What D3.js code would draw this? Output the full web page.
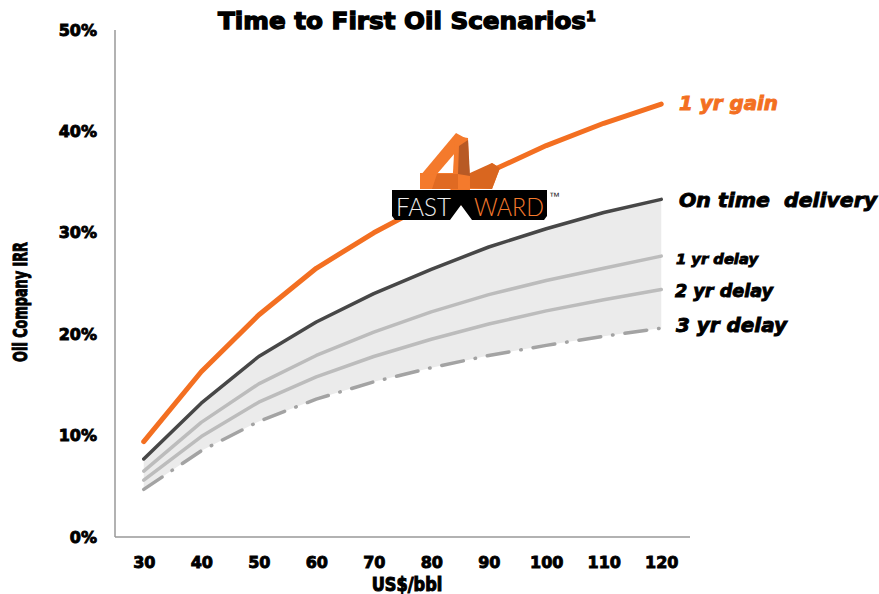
<!DOCTYPE html>
<html>
<head>
<meta charset="utf-8">
<script src="https://cdn.jsdelivr.net/npm/d3@7"></script>
<style>
  html, body { margin: 0; padding: 0; background: #fff; }
  svg { display: block; }
  .heavy { font-family: "DejaVu Sans", "Liberation Sans", sans-serif; font-weight: bold; }
</style>
</head>
<body>
<svg id="chart" width="879" height="594"></svg>
<script>
// ---- data ----
const prices = ["30", "40", "50", "60", "70", "80", "90", "100", "110", "120"];
const gain1yr   = [0.094, 0.163, 0.219, 0.265, 0.300, 0.330, 0.360, 0.386, 0.408, 0.427];
const onTime    = [0.077, 0.132, 0.178, 0.212, 0.240, 0.264, 0.286, 0.304, 0.320, 0.333];
const delay1yr  = [0.065, 0.113, 0.151, 0.179, 0.202, 0.222, 0.239, 0.253, 0.265, 0.277];
const delay2yr  = [0.056, 0.099, 0.133, 0.158, 0.178, 0.195, 0.210, 0.223, 0.234, 0.244];
const delay3yr  = [0.047, 0.085, 0.114, 0.136, 0.153, 0.167, 0.179, 0.189, 0.198, 0.206];
const yTicks = [0, 0.1, 0.2, 0.3, 0.4, 0.5];
const seriesLabels = ["1 yr gain", "On time  delivery", "1 yr delay", "2 yr delay", "3 yr delay"];

const svg = d3.select("#chart");
const x = d3.scalePoint().domain(prices).range([115, 690]).padding(0.5);
const y = d3.scaleLinear().domain([0, 0.5]).range([537, 30]);

// shaded band between on-time and 3-yr delay
const band = prices.map((p, i) => ({p, hi: onTime[i], lo: delay3yr[i]}));
svg.append("path")
  .datum(band)
  .attr("fill", "#ebebeb")
  .attr("d", d3.area().x(d => x(d.p)).y0(d => y(d.lo)).y1(d => y(d.hi)));

// axes
const yAxis = svg.append("g").attr("transform", "translate(115,0)")
  .call(d3.axisLeft(y).tickValues(yTicks).tickFormat(d3.format(".0%")).tickSize(0).tickPadding(18));
yAxis.select(".domain").attr("stroke", "#999").attr("stroke-width", 1.5).attr("d", "M0,30V537");
yAxis.selectAll("text").attr("class", "heavy").attr("font-size", 16).attr("fill", "#000")
  .attr("stroke", "#000").attr("stroke-width", 0.9);

const xAxis = svg.append("g").attr("transform", "translate(0,537)")
  .call(d3.axisBottom(x).tickSize(0).tickPadding(20));
xAxis.select(".domain").attr("stroke", "#999").attr("stroke-width", 1.5).attr("d", "M115,0H690");
xAxis.selectAll("text").attr("class", "heavy").attr("font-size", 16).attr("fill", "#000")
  .attr("stroke", "#000").attr("stroke-width", 0.9);

// lines
const line = d3.line().x((d, i) => x(prices[i])).y(d => y(d));
function drawLine(vals, color, width, dash) {
  const p = svg.append("path").datum(vals)
    .attr("fill", "none").attr("stroke", color).attr("stroke-width", width)
    .attr("stroke-linecap", "round").attr("stroke-linejoin", "round")
    .attr("d", line);
  if (dash) p.attr("stroke-dasharray", dash);
}
drawLine(delay3yr, "#a3a3a3", 3.5, "22 12 0.5 12");
drawLine(delay2yr, "#bcbcbc", 3.5);
drawLine(delay1yr, "#bcbcbc", 3.5);
drawLine(onTime, "#474747", 3.5);
drawLine(gain1yr, "#f36f21", 5);

// FAST4WARD logo (decoration)
const logo = svg.append("g");
logo.append("polygon").attr("points", "420,173 478,173 492,163 500,168 492,189 420,189").attr("fill", "#f47a2c");
logo.append("polygon").attr("points", "470,173 492,163 500,168 492,189 470,188").attr("fill", "#d9661f");
logo.append("polygon").attr("points", "456,133 467,139 437,174 420,176").attr("fill", "#f47a2c");
logo.append("polygon").attr("points", "455,136 468,138 470,190 461,206 452,190").attr("fill", "#f47a2c");
logo.append("polygon").attr("points", "459,146 468,140 470,176 458,174").attr("fill", "#b85a25");
logo.append("polygon").attr("points", "437,174 458,174 458,189 432,189").attr("fill", "#e06a22");
logo.append("polygon")
  .attr("points", "392,190 547,190 547,216 544,220 472,220 461,205 450,220 395,220 392,216")
  .attr("fill", "#000");
logo.append("text").attr("x", 396).attr("y", 216).attr("font-family", "Lato, 'Open Sans', sans-serif")
  .attr("font-weight", 300).attr("font-size", 25).attr("fill", "#eee")
  .attr("textLength", 55).attr("lengthAdjust", "spacingAndGlyphs").text("FAST");
logo.append("text").attr("x", 474).attr("y", 216).attr("font-family", "Lato, 'Open Sans', sans-serif")
  .attr("font-weight", 300).attr("font-size", 25).attr("fill", "#f47a2c")
  .attr("textLength", 70).attr("lengthAdjust", "spacingAndGlyphs").text("WARD");
logo.append("text").attr("x", 549).attr("y", 200).attr("font-family", "Liberation Sans, sans-serif")
  .attr("font-size", 11).attr("fill", "#222").text("™");

// series labels
const labelSpec = [
  {t: seriesLabels[0], x: 679, y: 110, fs: 19, w: 99, c: "#f36f21"},
  {t: seriesLabels[1], x: 679, y: 207, fs: 19, w: 198, c: "#000"},
  {t: seriesLabels[2], x: 676, y: 264, fs: 14, w: 82, c: "#000"},
  {t: seriesLabels[3], x: 675, y: 297, fs: 17, w: 98, c: "#000"},
  {t: seriesLabels[4], x: 676, y: 332, fs: 19, w: 111, c: "#000"}
];
svg.append("g").selectAll("text").data(labelSpec).join("text")
  .attr("class", "heavy").attr("font-style", "italic")
  .attr("x", d => d.x).attr("y", d => d.y).attr("font-size", d => d.fs)
  .attr("fill", d => d.c).attr("stroke", d => d.c).attr("stroke-width", 0.9)
  .attr("textLength", d => d.w).attr("lengthAdjust", "spacingAndGlyphs")
  .style("white-space", "pre")
  .text(d => d.t);

// title
const title = svg.append("text").attr("class", "heavy").attr("x", 218).attr("y", 29)
  .attr("font-size", 23).attr("fill", "#000").attr("stroke", "#000").attr("stroke-width", 1.3);
title.append("tspan").attr("textLength", 368).attr("lengthAdjust", "spacingAndGlyphs").text("Time to First Oil Scenarios");
title.append("tspan").attr("dy", -8).attr("font-size", 14).text("1");

// axis titles (horizontally condensed heavy type)
svg.append("text").attr("class", "heavy").attr("text-anchor", "middle")
  .attr("transform", "translate(27,302) rotate(-90) scale(0.64,1)")
  .attr("font-size", 20).attr("fill", "#000").attr("stroke", "#000").attr("stroke-width", 1.1)
  .text("Oil Company IRR");
svg.append("text").attr("class", "heavy").attr("text-anchor", "middle")
  .attr("transform", "translate(407,591) scale(0.85,1)")
  .attr("font-size", 19).attr("fill", "#000").attr("stroke", "#000").attr("stroke-width", 1.1)
  .text("US$/bbl");
</script>
</body>
</html>
